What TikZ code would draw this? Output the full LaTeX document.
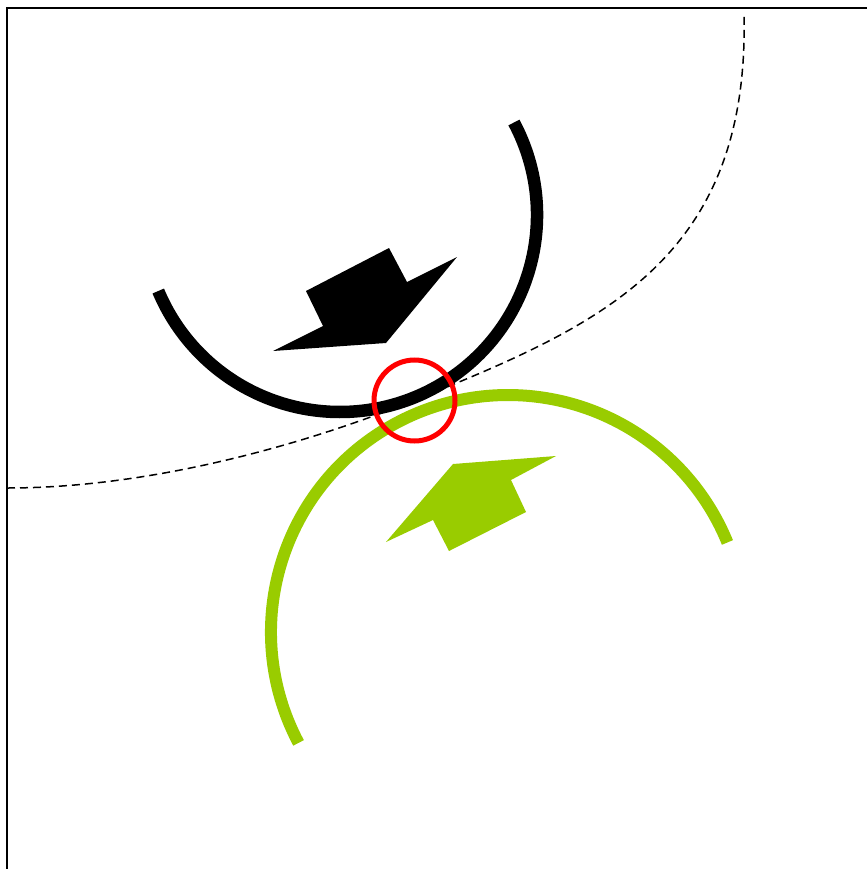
\documentclass[tikz,border=0pt]{standalone}
\definecolor{leafgreen}{RGB}{153,204,0}
\definecolor{markred}{RGB}{255,0,0}
\tikzset{
  frameline/.style={line width=1.6pt, black},
  blackarc/.style={line width=12.5pt, black},
  greenarc/.style={line width=12pt, leafgreen},
  ringmark/.style={line width=5pt, markred},
  pathcurve/.style={line width=1.5pt, dash pattern=on 8pt off 5pt},
}
\begin{document}
\begin{tikzpicture}[x=1pt,y=-1pt]
\useasboundingbox (0,0) rectangle (867,869);
% frame
\draw[frameline] (7,869) -- (7,8) -- (867,8);
% centres
\coordinate (bc) at (340,215);
\coordinate (gc) at (508,632);
\coordinate (touch) at (415,400);
% dashed curve
\draw[pathcurve] (7,488) .. controls (150,488) and (304,445) .. (touch)
  .. controls (601,325) and (750,260) .. (744,13);
% black arc
\draw[blackarc] (bc) ++(-28:197) arc[start angle=-28, end angle=157.3, radius=197];
% green arc
\draw[greenarc] (gc) ++(152.1:237) arc[start angle=152.1, end angle=337.8, radius=237];
% black arrow
\fill[black] (306,291) -- (389,248) -- (407,282) -- (457,257) -- (386,343) -- (273,351) -- (323,326) -- cycle;
% green arrow
\fill[leafgreen] (453,464) -- (556,456) -- (511,480) -- (526,512) -- (449,551) -- (433,520) -- (386,542) -- cycle;
% red ring
\draw[ringmark] (414.5,400.5) circle[radius=40.5];
\end{tikzpicture}
\end{document}
